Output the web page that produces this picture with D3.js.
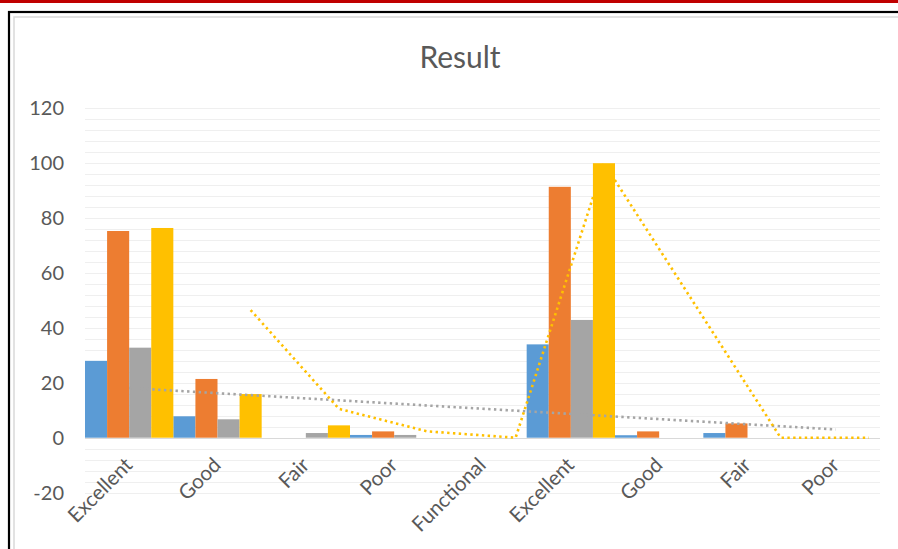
<!DOCTYPE html>
<html>
<head>
<meta charset="utf-8">
<script src="https://cdn.jsdelivr.net/npm/d3@7"></script>
<style>
  html, body { margin: 0; padding: 0; background: #ffffff; }
  svg { display: block; }
</style>
</head>
<body>
<svg id="chart" width="898" height="549"></svg>
<script>
// ---- data ----
const categories = ["Excellent", "Good", "Fair", "Poor", "Functional", "Excellent", "Good", "Fair", "Poor"];
const seriesNames = ["Series1", "Series2", "Series3", "Series4"];
const series1 = [28, 7.8, 0, 1, 0, 34, 0.9, 1.7, 0];
const series2 = [75.3, 21.4, 0, 2.3, 0, 91.4, 2.3, 5.2, 0];
const series3 = [32.8, 6.7, 1.7, 1, 0, 42.9, 0, 0, 0];
const series4 = [76.4, 15.9, 4.5, 0, 0, 100, 0, 0, 0];
// linear trend of series3 (read at first and last category)
const trend3Index = [0, 8];
const trend3Values = [18.1, 3.0];
// moving-average trend of series4 (categories 1..8)
const trend4Index = [1, 2, 3, 4, 5, 6, 7, 8];
const trend4Values = [46.5, 10.5, 2.3, 0, 100, 50, 0, 0];
const yTicks = [-20, 0, 20, 40, 60, 80, 100, 120];
const title = "Result";

const colors = ["#5B9BD5", "#ED7D31", "#A5A5A5", "#FFC000"];
const allSeries = [series1, series2, series3, series4];

const svg = d3.select("#chart");
const W = 898, H = 549;
const FONT = "Lato, 'Open Sans', sans-serif";

// frame decorations
svg.append("rect").attr("x", 0).attr("y", 0).attr("width", W).attr("height", 3).attr("fill", "#C00000");
svg.append("rect").attr("x", 9).attr("y", 12).attr("width", W + 20).attr("height", H + 20)
  .attr("fill", "none").attr("stroke", "#000").attr("stroke-width", 2.2);
svg.append("rect").attr("x", 14).attr("y", 17).attr("width", W + 20).attr("height", H + 20)
  .attr("fill", "#fff").attr("stroke", "#d9d9d9").attr("stroke-width", 1.5);

const left = 85, right = 880;
const y = d3.scaleLinear().domain([-20, 120]).range([492.6, 108.3]);
const x = d3.scaleBand().domain(d3.range(categories.length)).range([left, right]).paddingInner(0).paddingOuter(0);
const xs = d3.scaleBand().domain(d3.range(allSeries.length)).range([0, x.bandwidth()]).padding(0);

// gridlines (minor every 4)
const grid = d3.range(-20, 120.001, 4);
svg.append("g").selectAll("line").data(grid).join("line")
  .attr("x1", left).attr("x2", right)
  .attr("y1", d => Math.round(y(d)) + 0.5).attr("y2", d => Math.round(y(d)) + 0.5)
  .attr("stroke", d => d === 0 ? "#d9d9d9" : "#efefef").attr("stroke-width", 1);

// y axis labels
const yAxis = d3.axisLeft(y).tickValues(yTicks).tickFormat(d => String(d)).tickSize(0).tickPadding(0);
const ga = svg.append("g").attr("transform", `translate(64,0)`).call(yAxis);
ga.select(".domain").remove();
ga.selectAll("text").attr("font-family", FONT).attr("font-size", 20).attr("fill", "#595959");

// bars
allSeries.forEach((s, si) => {
  svg.append("g").selectAll("rect").data(s).join("rect")
    .attr("x", (d, i) => x(i) + xs(si))
    .attr("width", xs.bandwidth())
    .attr("y", d => y(Math.max(0, d)))
    .attr("height", d => Math.abs(y(d) - y(0)))
    .attr("fill", colors[si]);
});

// zero line on top
svg.append("line").attr("x1", left).attr("x2", right)
  .attr("y1", Math.round(y(0)) + 0.5).attr("y2", Math.round(y(0)) + 0.5)
  .attr("stroke", "#d9d9d9").attr("stroke-width", 1);

// category labels
const xAxis = d3.axisBottom(x).tickFormat(i => categories[i]).tickSize(0).tickPadding(0);
const gx = svg.append("g").attr("transform", `translate(0,${y(0)})`).call(xAxis);
gx.select(".domain").remove();
gx.selectAll("text")
  .attr("font-family", FONT).attr("font-size", 20.5).attr("fill", "#595959")
  .attr("text-anchor", "end").attr("dy", null).attr("y", 0)
  .attr("dominant-baseline", "central")
  .attr("transform", "translate(-1,23) rotate(-45)");

// trendlines
const line = d3.line().x(d => d[0]).y(d => y(d[1]));
const t3 = trend3Index.map((i, k) => [x(i) + x.bandwidth() / 2, trend3Values[k]]);
svg.append("path").attr("d", line(t3)).attr("fill", "none")
  .attr("stroke", "#A5A5A5").attr("stroke-width", 2.6).attr("stroke-dasharray", "2.4 3.4");
const t4 = trend4Index.map((i, k) => [x(i) + xs(3) + xs.bandwidth() / 2, trend4Values[k]]);
svg.append("path").attr("d", line(t4)).attr("fill", "none")
  .attr("stroke", "#FFC000").attr("stroke-width", 2.6).attr("stroke-dasharray", "2.4 3.4");

// title
svg.append("text").attr("x", 460).attr("y", 68).attr("text-anchor", "middle")
  .attr("font-family", FONT).attr("font-size", 30).attr("fill", "#595959")
  .text(title);
</script>
</body>
</html>
